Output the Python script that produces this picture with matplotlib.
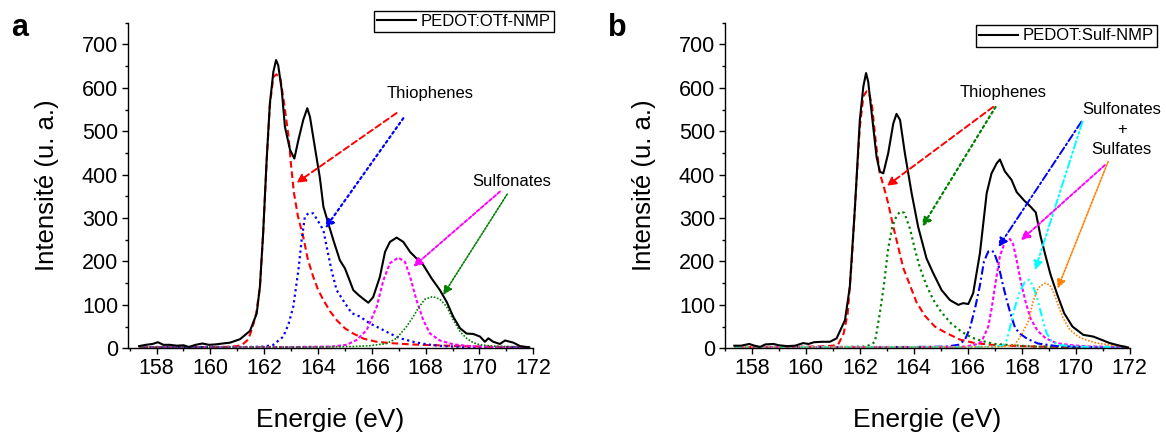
import matplotlib
matplotlib.use('Agg')
import matplotlib.pyplot as plt
from matplotlib.ticker import MultipleLocator

plt.rcParams['font.family'] = ['Liberation Sans', 'DejaVu Sans']

# ---- panel a : PEDOT:OTf-NMP ----
a_e = [157.35, 157.6, 157.85, 158.05, 158.25, 158.5, 158.75, 159.0, 159.2, 159.45,
       159.7, 159.95, 160.2, 160.45, 160.73, 161.1, 161.47, 161.72, 161.84, 161.96,
       162.09, 162.21, 162.34, 162.44, 162.52, 162.65, 162.77, 162.96, 163.12, 163.27,
       163.45, 163.6, 163.7, 163.88, 164.07, 164.2, 164.38, 164.57, 164.81, 165.0,
       165.12, 165.31, 165.5, 165.7, 165.87, 166.05, 166.3, 166.49, 166.67, 166.92,
       167.17, 167.42, 167.66, 167.91, 168.22, 168.53, 168.78, 169.03, 169.28, 169.52,
       169.77, 170.02, 170.2, 170.33, 170.51, 170.76, 170.95, 171.26, 171.51, 171.85]
a_i = [5, 8, 10, 14, 8, 8, 6, 7, 3, 8,
       11, 8, 9, 11, 13, 21, 40, 80, 142, 265,
       434, 564, 637, 664, 652, 595, 510, 457, 437, 480,
       526, 553, 533, 464, 392, 326, 288, 249, 203, 184,
       165, 134, 123, 113, 105, 118, 165, 222, 245, 255,
       245, 222, 207, 192, 161, 134, 107, 72, 46, 34,
       33, 27, 15, 23, 15, 10, 18, 13, 5, 2]

a_red_e = [157.35, 159.0, 160.5, 161.0, 161.2, 161.4, 161.55, 161.7, 161.84, 161.96,
           162.09, 162.21, 162.34, 162.45, 162.6, 162.75, 162.9, 163.0, 163.1, 163.25,
           163.45, 163.62, 163.82, 164.0, 164.2, 164.45, 164.69, 165.0, 165.31, 165.7,
           166.18, 166.7, 167.17, 167.8, 168.41, 169.2, 170.0, 171.0, 171.85]
a_red_i = [2, 2, 3, 5, 9, 20, 45, 80, 140, 265,
           430, 560, 625, 631, 622, 560, 490, 420, 360, 305,
           257, 205, 165, 135, 111, 85, 65, 46, 34, 22,
           15, 12, 10, 8, 7, 5, 4, 3, 3]

a_blue_e = [157.35, 160.0, 161.5, 162.0, 162.34, 162.71, 162.9, 163.08, 163.27, 163.39,
            163.51, 163.64, 163.82, 164.01, 164.2, 164.32, 164.5, 164.69, 165.0, 165.25,
            165.56, 165.93, 166.3, 166.67, 167.05, 167.54, 168.04, 168.66, 169.5, 171.85]
a_blue_i = [3, 3, 3, 4, 8, 27, 55, 96, 180, 249,
            303, 311, 311, 292, 272, 234, 180, 134, 104, 81,
            73, 57, 46, 34, 23, 15, 9, 5, 3, 3]

a_mag_e = [157.35, 163.0, 164.5, 165.06, 165.43, 165.81, 166.18, 166.43, 166.67, 166.98,
           167.23, 167.42, 167.66, 167.91, 168.16, 168.53, 169.03, 169.65, 170.5, 171.85]
a_mag_i = [3, 3, 4, 8, 19, 42, 96, 157, 196, 209,
           199, 165, 111, 65, 34, 18, 9, 5, 3, 3]

a_green_e = [157.35, 164.0, 165.3, 165.93, 166.55, 166.92, 167.29, 167.54, 167.72, 167.97,
             168.26, 168.53, 168.78, 169.03, 169.28, 169.52, 169.77, 170.02, 170.5, 171.0, 171.85]
a_green_i = [3, 3, 4, 6, 11, 23, 50, 73, 92, 113,
             119, 113, 96, 65, 38, 23, 13, 8, 5, 4, 3]

# ---- panel b : PEDOT:Sulf-NMP ----
b_e = [157.35, 157.6, 157.9, 158.1, 158.3, 158.5, 158.8, 159.0, 159.3, 159.6,
       159.9, 160.1, 160.3, 160.6, 160.89, 161.14, 161.45, 161.63, 161.82, 162.0,
       162.13, 162.23, 162.31, 162.44, 162.62, 162.74, 162.87, 163.05, 163.24, 163.36,
       163.49, 163.67, 163.92, 164.16, 164.47, 164.72, 165.03, 165.34, 165.65, 165.83,
       166.02, 166.2, 166.45, 166.7, 166.88, 167.07, 167.19, 167.37, 167.62, 167.81,
       168.08, 168.33, 168.52, 168.7, 168.89, 169.07, 169.32, 169.57, 169.88, 170.28,
       170.65, 171.02, 171.26, 171.63, 171.94]
b_i = [6, 6, 10, 6, 3, 9, 10, 7, 5, 6,
       12, 10, 14, 15, 15, 23, 65, 142, 326, 526,
       603, 634, 614, 541, 441, 407, 403, 449, 518, 540,
       526, 449, 357, 280, 207, 173, 134, 111, 100, 104,
       102, 127, 219, 357, 403, 426, 435, 408, 388, 360,
       341, 326, 313, 257, 211, 169, 123, 81, 50, 31,
       27, 18, 12, 6, 2]

b_red_e = [157.35, 159.0, 160.5, 161.0, 161.2, 161.4, 161.55, 161.7, 161.82, 162.0,
           162.13, 162.25, 162.35, 162.45, 162.6, 162.74, 162.87, 163.05, 163.24, 163.42,
           163.61, 163.86, 164.1, 164.41, 164.78, 165.21, 165.71, 166.26, 166.88, 167.5,
           168.5, 170.0, 171.85]
b_red_i = [3, 3, 4, 6, 9, 34, 80, 200, 326, 510,
           580, 592, 585, 560, 470, 403, 376, 334, 280, 234,
           185, 145, 106, 75, 50, 35, 20, 12, 8, 6,
           4, 3, 3]

b_green_e = [157.35, 161.5, 162.2, 162.4, 162.56, 162.74, 162.9, 163.05, 163.2, 163.36,
             163.5, 163.65, 163.86, 164.04, 164.23, 164.47, 164.72, 165.0, 165.37, 165.77,
             166.14, 166.51, 167.0, 167.62, 168.5, 170.0, 171.85]
b_green_i = [3, 3, 4, 8, 15, 80, 150, 230, 280, 305,
             315, 312, 275, 228, 185, 145, 112, 85, 58, 38,
             25, 17, 10, 7, 4, 3, 3]

b_blue_e = [157.35, 164.0, 165.2, 165.65, 165.89, 166.08, 166.29, 166.45, 166.6, 166.76,
            166.88, 166.97, 167.13, 167.28, 167.43, 167.6, 167.76, 167.95, 168.2, 168.6,
            169.3, 170.5, 171.85]
b_blue_i = [3, 3, 4, 8, 19, 46, 98, 145, 200, 223,
            225, 221, 194, 152, 114, 76, 46, 33, 22, 11,
            5, 3, 3]

b_mag_e = [157.35, 165.0, 165.9, 166.26, 166.51, 166.76, 166.88, 167.03, 167.19, 167.37,
           167.56, 167.68, 167.81, 167.96, 168.15, 168.33, 168.58, 168.89, 169.28, 169.72,
           170.5, 171.85]
b_mag_i = [3, 3, 4, 8, 15, 50, 90, 152, 212, 244,
           252, 240, 203, 155, 105, 68, 41, 23, 12, 8,
           4, 3]

b_cyan_e = [157.35, 166.0, 167.0, 167.3, 167.45, 167.56, 167.74, 167.93, 168.11, 168.28,
            168.42, 168.55, 168.67, 168.8, 168.92, 169.1, 169.35, 169.8, 170.5, 171.85]
b_cyan_i = [3, 3, 4, 6, 20, 47, 93, 131, 152, 158,
            143, 120, 92, 60, 35, 17, 8, 5, 3, 3]

b_orange_e = [157.35, 166.0, 167.3, 167.74, 167.99, 168.24, 168.42, 168.61, 168.85, 169.04,
              169.16, 169.35, 169.53, 169.78, 170.09, 170.34, 170.77, 171.26, 171.85]
b_orange_i = [3, 3, 4, 8, 31, 62, 108, 139, 150, 146,
              131, 100, 70, 43, 27, 20, 12, 8, 4]

W, H = 1166, 434


def style_axes(ax, xmin):
    ax.set_xlim(xmin, 172)
    ax.set_ylim(0, 750)
    ax.xaxis.set_major_locator(MultipleLocator(2))
    ax.xaxis.set_minor_locator(MultipleLocator(1))
    ax.yaxis.set_major_locator(MultipleLocator(100))
    ax.yaxis.set_minor_locator(MultipleLocator(50))
    ax.spines['top'].set_visible(False)
    ax.spines['right'].set_visible(False)
    for s in ('left', 'bottom'):
        ax.spines[s].set_linewidth(1.0)
    ax.tick_params(which='major', direction='out', length=4, width=1,
                   labelsize=15.5, pad=3)
    ax.tick_params(which='minor', direction='out', length=2.5, width=1)
    ax.set_xlabel('Energie (eV)', fontsize=19, va='top')
    ax.xaxis.set_label_coords(0.5, -0.183)
    ax.set_ylabel('Intensité (u. a.)', fontsize=18.5, va='center')
    ax.yaxis.set_label_coords(-0.199, 0.5)


def arrow(ax, head, tail, color, ls, lw=1.4):
    ax.annotate('', xy=head, xytext=tail,
                arrowprops=dict(arrowstyle='-|>', color=color, lw=lw, linestyle=ls,
                                mutation_scale=13, shrinkA=0, shrinkB=0))


fig = plt.figure(figsize=(W / 100, H / 100), dpi=100)
ax1 = fig.add_axes([127.8 / W, 1 - 348.3 / H, 405.5 / W, 325.6 / H])
ax2 = fig.add_axes([724.9 / W, 1 - 348.3 / H, 404.8 / W, 325.6 / H])

dash_long = (0, (3.2, 1.8))
dash_short = (0, (1.7, 1.1))
dot = (0, (1, 1.5))
dot_fine = (0, (1, 1))
dashdot = (0, (4, 1.5, 1, 1.5))
dashdotdot = (0, (4, 1.5, 1, 1.5, 1, 1.5))

# panel a
ax1.plot(a_red_e, a_red_i, color='#ff0000', lw=1.5, linestyle=dash_long)
ax1.plot(a_blue_e, a_blue_i, color='#0000ff', lw=1.6, linestyle=dot)
ax1.plot(a_mag_e, a_mag_i, color='#ff00ff', lw=1.5, linestyle=dash_short)
ax1.plot(a_green_e, a_green_i, color='#008000', lw=1.2, linestyle=dot_fine)
ax1.plot(a_e, a_i, color='black', lw=1.5, label='PEDOT:OTf-NMP')
style_axes(ax1, 156.93)

arrow(ax1, (163.2, 381), (166.92, 542), '#ff0000', dash_long)
arrow(ax1, (164.26, 276), (167.17, 530), '#0000ff', dot, 1.6)
arrow(ax1, (167.54, 188), (170.76, 361), '#ff00ff', dash_short)
arrow(ax1, (168.65, 123), (171.03, 355), '#008000', dot_fine, 1.2)
ax1.text(168.16, 588, 'Thiophenes', fontsize=12, ha='center', va='center')
ax1.text(171.2, 384, 'Sulfonates', fontsize=12, ha='center', va='center')

leg = ax1.legend(loc='upper right', bbox_to_anchor=(554 / W, 1 - 10.7 / H),
                 bbox_transform=fig.transFigure, fontsize=12, handlelength=2.3,
                 handletextpad=0.3, borderpad=0.2, borderaxespad=0,
                 fancybox=False, framealpha=1, edgecolor='black')
leg.get_frame().set_linewidth(1.0)

# panel b
ax2.plot(b_red_e, b_red_i, color='#ff0000', lw=1.5, linestyle=dash_long)
ax2.plot(b_green_e, b_green_i, color='#008000', lw=1.6, linestyle=dot)
ax2.plot(b_blue_e, b_blue_i, color='#0000ff', lw=1.5, linestyle=dashdot)
ax2.plot(b_mag_e, b_mag_i, color='#ff00ff', lw=1.5, linestyle=dash_short)
ax2.plot(b_cyan_e, b_cyan_i, color='#00ffff', lw=1.5, linestyle=dashdotdot)
ax2.plot(b_orange_e, b_orange_i, color='#ff8000', lw=1.2, linestyle=dot_fine)
ax2.plot(b_e, b_i, color='black', lw=1.5, label='PEDOT:Sulf-NMP')
style_axes(ax2, 157.0)

arrow(ax2, (163.0, 374), (166.94, 556), '#ff0000', dash_long)
arrow(ax2, (164.31, 280), (167.03, 556), '#008000', dot, 1.6)
arrow(ax2, (167.13, 233), (170.21, 522), '#0000ff', dashdot)
arrow(ax2, (168.49, 180), (170.25, 522), '#00ffff', dashdotdot)
arrow(ax2, (167.97, 249), (171.08, 422), '#ff00ff', dash_short)
arrow(ax2, (169.33, 138), (171.2, 430), '#ff8000', dot_fine, 1.2)
ax2.text(167.3, 590, 'Thiophenes', fontsize=12, ha='center', va='center')
ax2.text(171.71, 504, 'Sulfonates\n+\nSulfates', fontsize=12, ha='center', va='center',
         linespacing=1.45)

leg = ax2.legend(loc='upper right', bbox_to_anchor=(1157 / W, 1 - 25 / H),
                 bbox_transform=fig.transFigure, fontsize=12, handlelength=2.3,
                 handletextpad=0.3, borderpad=0.2, borderaxespad=0,
                 fancybox=False, framealpha=1, edgecolor='black')
leg.get_frame().set_linewidth(1.0)

fig.text(20 / W, 1 - 28 / H, 'a', fontsize=22, fontweight='bold', ha='center', va='center')
fig.text(617 / W, 1 - 28 / H, 'b', fontsize=22, fontweight='bold', ha='center', va='center')

fig.savefig('out.png', dpi=100)
